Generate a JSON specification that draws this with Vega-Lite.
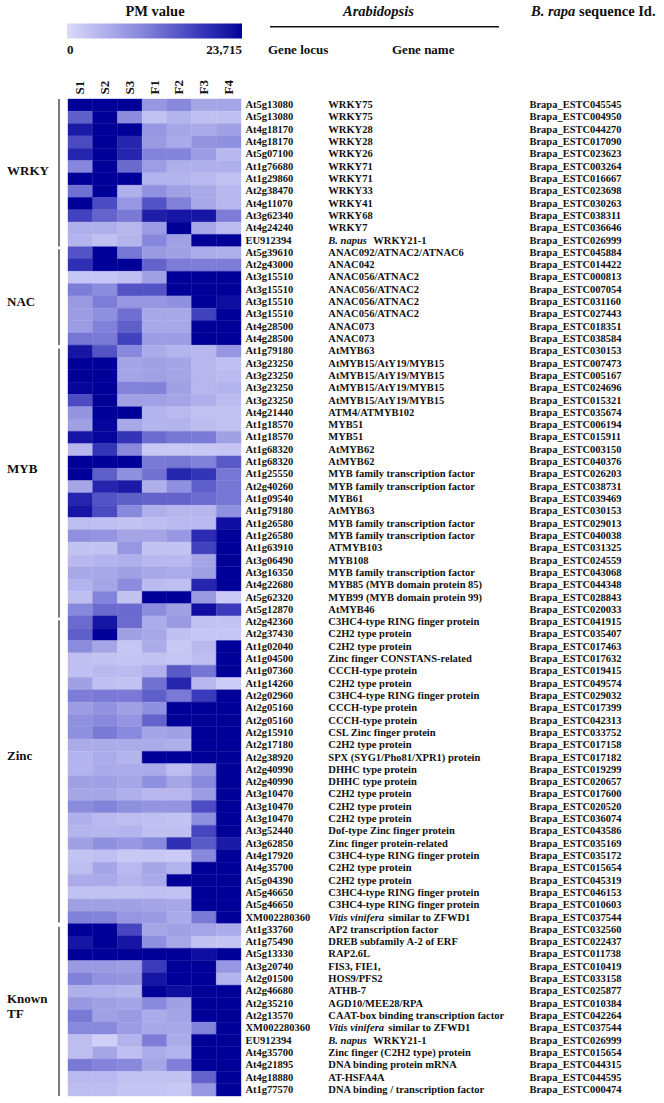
{"$schema":"https://vega.github.io/schema/vega-lite/v6.json","width":664,"height":1103,"padding":0,"autosize":{"type":"none"},"background":"white","config":{"view":{"stroke":null},"text":{"font":"Liberation Serif","fontWeight":"bold","color":"#111111"}},
"datasets":{
"cells":[
{"row":0,"s":"S1","pm":23715},{"row":0,"s":"S2","pm":23715},{"row":0,"s":"S3","pm":23715},{"row":0,"s":"F1","pm":8295},{"row":0,"s":"F2","pm":9954},{"row":0,"s":"F3","pm":6399},{"row":0,"s":"F4","pm":6636},
{"row":1,"s":"S1","pm":14220},{"row":1,"s":"S2","pm":23715},{"row":1,"s":"S3","pm":9480},{"row":1,"s":"F1","pm":2844},{"row":1,"s":"F2","pm":4740},{"row":1,"s":"F3","pm":3318},{"row":1,"s":"F4","pm":3318},
{"row":2,"s":"S1","pm":21330},{"row":2,"s":"S2","pm":23715},{"row":2,"s":"S3","pm":23715},{"row":2,"s":"F1","pm":8295},{"row":2,"s":"F2","pm":6399},{"row":2,"s":"F3","pm":5688},{"row":2,"s":"F4","pm":7110},
{"row":3,"s":"S1","pm":16116},{"row":3,"s":"S2","pm":23715},{"row":3,"s":"S3","pm":20145},{"row":3,"s":"F1","pm":7821},{"row":3,"s":"F2","pm":5925},{"row":3,"s":"F3","pm":8532},{"row":3,"s":"F4","pm":9006},
{"row":4,"s":"S1","pm":20145},{"row":4,"s":"S2","pm":23715},{"row":4,"s":"S3","pm":20145},{"row":4,"s":"F1","pm":10428},{"row":4,"s":"F2","pm":10428},{"row":4,"s":"F3","pm":7584},{"row":4,"s":"F4","pm":4266},
{"row":5,"s":"S1","pm":10191},{"row":5,"s":"S2","pm":23715},{"row":5,"s":"S3","pm":13035},{"row":5,"s":"F1","pm":7584},{"row":5,"s":"F2","pm":5214},{"row":5,"s":"F3","pm":5214},{"row":5,"s":"F4","pm":5214},
{"row":6,"s":"S1","pm":23715},{"row":6,"s":"S2","pm":23715},{"row":6,"s":"S3","pm":23715},{"row":6,"s":"F1","pm":4740},{"row":6,"s":"F2","pm":4740},{"row":6,"s":"F3","pm":4029},{"row":6,"s":"F4","pm":3081},
{"row":7,"s":"S1","pm":12324},{"row":7,"s":"S2","pm":23715},{"row":7,"s":"S3","pm":5214},{"row":7,"s":"F1","pm":9006},{"row":7,"s":"F2","pm":7110},{"row":7,"s":"F3","pm":5925},{"row":7,"s":"F4","pm":4266},
{"row":8,"s":"S1","pm":23715},{"row":8,"s":"S2","pm":16116},{"row":8,"s":"S3","pm":8295},{"row":8,"s":"F1","pm":15405},{"row":8,"s":"F2","pm":10665},{"row":8,"s":"F3","pm":6162},{"row":8,"s":"F4","pm":4266},
{"row":9,"s":"S1","pm":17064},{"row":9,"s":"S2","pm":13746},{"row":9,"s":"S3","pm":11376},{"row":9,"s":"F1","pm":20856},{"row":9,"s":"F2","pm":21804},{"row":9,"s":"F3","pm":21804},{"row":9,"s":"F4","pm":11139},
{"row":10,"s":"S1","pm":5214},{"row":10,"s":"S2","pm":5214},{"row":10,"s":"S3","pm":4266},{"row":10,"s":"F1","pm":7584},{"row":10,"s":"F2","pm":23715},{"row":10,"s":"F3","pm":6162},{"row":10,"s":"F4","pm":3792},
{"row":11,"s":"S1","pm":4740},{"row":11,"s":"S2","pm":3318},{"row":11,"s":"S3","pm":4740},{"row":11,"s":"F1","pm":10191},{"row":11,"s":"F2","pm":7110},{"row":11,"s":"F3","pm":23715},{"row":11,"s":"F4","pm":23715},
{"row":12,"s":"S1","pm":15405},{"row":12,"s":"S2","pm":23715},{"row":12,"s":"S3","pm":11850},{"row":12,"s":"F1","pm":7821},{"row":12,"s":"F2","pm":7110},{"row":12,"s":"F3","pm":5688},{"row":12,"s":"F4","pm":5214},
{"row":13,"s":"S1","pm":18960},{"row":13,"s":"S2","pm":23715},{"row":13,"s":"S3","pm":23715},{"row":13,"s":"F1","pm":13746},{"row":13,"s":"F2","pm":11139},{"row":13,"s":"F3","pm":11139},{"row":13,"s":"F4","pm":11139},
{"row":14,"s":"S1","pm":2370},{"row":14,"s":"S2","pm":2370},{"row":14,"s":"S3","pm":3318},{"row":14,"s":"F1","pm":7110},{"row":14,"s":"F2","pm":23715},{"row":14,"s":"F3","pm":23715},{"row":14,"s":"F4","pm":23715},
{"row":15,"s":"S1","pm":11139},{"row":15,"s":"S2","pm":9480},{"row":15,"s":"S3","pm":15405},{"row":15,"s":"F1","pm":15405},{"row":15,"s":"F2","pm":23715},{"row":15,"s":"F3","pm":23715},{"row":15,"s":"F4","pm":23715},
{"row":16,"s":"S1","pm":7821},{"row":16,"s":"S2","pm":11139},{"row":16,"s":"S3","pm":8295},{"row":16,"s":"F1","pm":8295},{"row":16,"s":"F2","pm":9006},{"row":16,"s":"F3","pm":23715},{"row":16,"s":"F4","pm":22515},
{"row":17,"s":"S1","pm":7584},{"row":17,"s":"S2","pm":9006},{"row":17,"s":"S3","pm":12561},{"row":17,"s":"F1","pm":6162},{"row":17,"s":"F2","pm":6162},{"row":17,"s":"F3","pm":17064},{"row":17,"s":"F4","pm":23715},
{"row":18,"s":"S1","pm":7584},{"row":18,"s":"S2","pm":10665},{"row":18,"s":"S3","pm":14220},{"row":18,"s":"F1","pm":6162},{"row":18,"s":"F2","pm":6162},{"row":18,"s":"F3","pm":23715},{"row":18,"s":"F4","pm":23715},
{"row":19,"s":"S1","pm":11850},{"row":19,"s":"S2","pm":11376},{"row":19,"s":"S3","pm":17064},{"row":19,"s":"F1","pm":7584},{"row":19,"s":"F2","pm":7584},{"row":19,"s":"F3","pm":23715},{"row":19,"s":"F4","pm":23715},
{"row":20,"s":"S1","pm":21804},{"row":20,"s":"S2","pm":15405},{"row":20,"s":"S3","pm":9954},{"row":20,"s":"F1","pm":5688},{"row":20,"s":"F2","pm":4740},{"row":20,"s":"F3","pm":4266},{"row":20,"s":"F4","pm":8295},
{"row":21,"s":"S1","pm":23715},{"row":21,"s":"S2","pm":23715},{"row":21,"s":"S3","pm":6636},{"row":21,"s":"F1","pm":7110},{"row":21,"s":"F2","pm":6636},{"row":21,"s":"F3","pm":4266},{"row":21,"s":"F4","pm":3318},
{"row":22,"s":"S1","pm":23715},{"row":22,"s":"S2","pm":23715},{"row":22,"s":"S3","pm":6636},{"row":22,"s":"F1","pm":7110},{"row":22,"s":"F2","pm":6636},{"row":22,"s":"F3","pm":4266},{"row":22,"s":"F4","pm":3792},
{"row":23,"s":"S1","pm":23226},{"row":23,"s":"S2","pm":23715},{"row":23,"s":"S3","pm":10428},{"row":23,"s":"F1","pm":10665},{"row":23,"s":"F2","pm":7110},{"row":23,"s":"F3","pm":4266},{"row":23,"s":"F4","pm":4740},
{"row":24,"s":"S1","pm":16116},{"row":24,"s":"S2","pm":23715},{"row":24,"s":"S3","pm":7110},{"row":24,"s":"F1","pm":7110},{"row":24,"s":"F2","pm":6636},{"row":24,"s":"F3","pm":5214},{"row":24,"s":"F4","pm":3792},
{"row":25,"s":"S1","pm":8532},{"row":25,"s":"S2","pm":23715},{"row":25,"s":"S3","pm":23715},{"row":25,"s":"F1","pm":4740},{"row":25,"s":"F2","pm":4029},{"row":25,"s":"F3","pm":3081},{"row":25,"s":"F4","pm":3081},
{"row":26,"s":"S1","pm":7110},{"row":26,"s":"S2","pm":23226},{"row":26,"s":"S3","pm":6162},{"row":26,"s":"F1","pm":4740},{"row":26,"s":"F2","pm":4740},{"row":26,"s":"F3","pm":3555},{"row":26,"s":"F4","pm":3081},
{"row":27,"s":"S1","pm":21804},{"row":27,"s":"S2","pm":23226},{"row":27,"s":"S3","pm":18486},{"row":27,"s":"F1","pm":13035},{"row":27,"s":"F2","pm":11850},{"row":27,"s":"F3","pm":11376},{"row":27,"s":"F4","pm":7110},
{"row":28,"s":"S1","pm":4266},{"row":28,"s":"S2","pm":18486},{"row":28,"s":"S3","pm":9954},{"row":28,"s":"F1","pm":2133},{"row":28,"s":"F2","pm":2133},{"row":28,"s":"F3","pm":2133},{"row":28,"s":"F4","pm":2607},
{"row":29,"s":"S1","pm":23715},{"row":29,"s":"S2","pm":23715},{"row":29,"s":"S3","pm":23715},{"row":29,"s":"F1","pm":11376},{"row":29,"s":"F2","pm":11850},{"row":29,"s":"F3","pm":10665},{"row":29,"s":"F4","pm":14931},
{"row":30,"s":"S1","pm":23715},{"row":30,"s":"S2","pm":14220},{"row":30,"s":"S3","pm":9006},{"row":30,"s":"F1","pm":12324},{"row":30,"s":"F2","pm":20145},{"row":30,"s":"F3","pm":18486},{"row":30,"s":"F4","pm":11850},
{"row":31,"s":"S1","pm":6399},{"row":31,"s":"S2","pm":20145},{"row":31,"s":"S3","pm":21330},{"row":31,"s":"F1","pm":5214},{"row":31,"s":"F2","pm":9006},{"row":31,"s":"F3","pm":14220},{"row":31,"s":"F4","pm":11850},
{"row":32,"s":"S1","pm":20145},{"row":32,"s":"S2","pm":15405},{"row":32,"s":"S3","pm":14220},{"row":32,"s":"F1","pm":13746},{"row":32,"s":"F2","pm":13746},{"row":32,"s":"F3","pm":13035},{"row":32,"s":"F4","pm":11850},
{"row":33,"s":"S1","pm":21804},{"row":33,"s":"S2","pm":16116},{"row":33,"s":"S3","pm":9954},{"row":33,"s":"F1","pm":5214},{"row":33,"s":"F2","pm":4266},{"row":33,"s":"F3","pm":4266},{"row":33,"s":"F4","pm":9006},
{"row":34,"s":"S1","pm":3555},{"row":34,"s":"S2","pm":3318},{"row":34,"s":"S3","pm":3081},{"row":34,"s":"F1","pm":3555},{"row":34,"s":"F2","pm":4029},{"row":34,"s":"F3","pm":4029},{"row":34,"s":"F4","pm":22515},
{"row":35,"s":"S1","pm":9006},{"row":35,"s":"S2","pm":8532},{"row":35,"s":"S3","pm":6636},{"row":35,"s":"F1","pm":6636},{"row":35,"s":"F2","pm":8058},{"row":35,"s":"F3","pm":19434},{"row":35,"s":"F4","pm":23715},
{"row":36,"s":"S1","pm":2844},{"row":36,"s":"S2","pm":2844},{"row":36,"s":"S3","pm":8295},{"row":36,"s":"F1","pm":2844},{"row":36,"s":"F2","pm":2844},{"row":36,"s":"F3","pm":17064},{"row":36,"s":"F4","pm":23715},
{"row":37,"s":"S1","pm":4029},{"row":37,"s":"S2","pm":4740},{"row":37,"s":"S3","pm":5214},{"row":37,"s":"F1","pm":4029},{"row":37,"s":"F2","pm":4029},{"row":37,"s":"F3","pm":6636},{"row":37,"s":"F4","pm":23715},
{"row":38,"s":"S1","pm":6162},{"row":38,"s":"S2","pm":6162},{"row":38,"s":"S3","pm":7110},{"row":38,"s":"F1","pm":6162},{"row":38,"s":"F2","pm":5688},{"row":38,"s":"F3","pm":7110},{"row":38,"s":"F4","pm":23715},
{"row":39,"s":"S1","pm":4740},{"row":39,"s":"S2","pm":6399},{"row":39,"s":"S3","pm":9480},{"row":39,"s":"F1","pm":3792},{"row":39,"s":"F2","pm":3318},{"row":39,"s":"F3","pm":20145},{"row":39,"s":"F4","pm":23715},
{"row":40,"s":"S1","pm":3555},{"row":40,"s":"S2","pm":10428},{"row":40,"s":"S3","pm":2844},{"row":40,"s":"F1","pm":23715},{"row":40,"s":"F2","pm":23715},{"row":40,"s":"F3","pm":7821},{"row":40,"s":"F4","pm":1896},
{"row":41,"s":"S1","pm":9954},{"row":41,"s":"S2","pm":13035},{"row":41,"s":"S3","pm":13035},{"row":41,"s":"F1","pm":9480},{"row":41,"s":"F2","pm":7110},{"row":41,"s":"F3","pm":22515},{"row":41,"s":"F4","pm":17775},
{"row":42,"s":"S1","pm":13035},{"row":42,"s":"S2","pm":21804},{"row":42,"s":"S3","pm":13035},{"row":42,"s":"F1","pm":5688},{"row":42,"s":"F2","pm":7821},{"row":42,"s":"F3","pm":3081},{"row":42,"s":"F4","pm":2844},
{"row":43,"s":"S1","pm":14220},{"row":43,"s":"S2","pm":23715},{"row":43,"s":"S3","pm":7110},{"row":43,"s":"F1","pm":6162},{"row":43,"s":"F2","pm":3318},{"row":43,"s":"F3","pm":2370},{"row":43,"s":"F4","pm":2370},
{"row":44,"s":"S1","pm":9480},{"row":44,"s":"S2","pm":6399},{"row":44,"s":"S3","pm":2370},{"row":44,"s":"F1","pm":5688},{"row":44,"s":"F2","pm":2133},{"row":44,"s":"F3","pm":4029},{"row":44,"s":"F4","pm":23715},
{"row":45,"s":"S1","pm":3318},{"row":45,"s":"S2","pm":2844},{"row":45,"s":"S3","pm":2607},{"row":45,"s":"F1","pm":2844},{"row":45,"s":"F2","pm":2370},{"row":45,"s":"F3","pm":3555},{"row":45,"s":"F4","pm":23715},
{"row":46,"s":"S1","pm":3318},{"row":46,"s":"S2","pm":4029},{"row":46,"s":"S3","pm":3792},{"row":46,"s":"F1","pm":5214},{"row":46,"s":"F2","pm":14694},{"row":46,"s":"F3","pm":11850},{"row":46,"s":"F4","pm":23715},
{"row":47,"s":"S1","pm":7110},{"row":47,"s":"S2","pm":3318},{"row":47,"s":"S3","pm":2844},{"row":47,"s":"F1","pm":12324},{"row":47,"s":"F2","pm":20145},{"row":47,"s":"F3","pm":4266},{"row":47,"s":"F4","pm":1659},
{"row":48,"s":"S1","pm":11139},{"row":48,"s":"S2","pm":11376},{"row":48,"s":"S3","pm":11376},{"row":48,"s":"F1","pm":14220},{"row":48,"s":"F2","pm":11376},{"row":48,"s":"F3","pm":17775},{"row":48,"s":"F4","pm":23715},
{"row":49,"s":"S1","pm":7584},{"row":49,"s":"S2","pm":8769},{"row":49,"s":"S3","pm":7110},{"row":49,"s":"F1","pm":9006},{"row":49,"s":"F2","pm":23715},{"row":49,"s":"F3","pm":23715},{"row":49,"s":"F4","pm":23715},
{"row":50,"s":"S1","pm":9006},{"row":50,"s":"S2","pm":9954},{"row":50,"s":"S3","pm":8532},{"row":50,"s":"F1","pm":13746},{"row":50,"s":"F2","pm":23715},{"row":50,"s":"F3","pm":23715},{"row":50,"s":"F4","pm":23715},
{"row":51,"s":"S1","pm":9006},{"row":51,"s":"S2","pm":11376},{"row":51,"s":"S3","pm":9954},{"row":51,"s":"F1","pm":6636},{"row":51,"s":"F2","pm":7110},{"row":51,"s":"F3","pm":23715},{"row":51,"s":"F4","pm":23715},
{"row":52,"s":"S1","pm":5688},{"row":52,"s":"S2","pm":5688},{"row":52,"s":"S3","pm":5688},{"row":52,"s":"F1","pm":5688},{"row":52,"s":"F2","pm":5214},{"row":52,"s":"F3","pm":23715},{"row":52,"s":"F4","pm":23715},
{"row":53,"s":"S1","pm":4740},{"row":53,"s":"S2","pm":5688},{"row":53,"s":"S3","pm":4740},{"row":53,"s":"F1","pm":23715},{"row":53,"s":"F2","pm":23715},{"row":53,"s":"F3","pm":23715},{"row":53,"s":"F4","pm":23715},
{"row":54,"s":"S1","pm":4740},{"row":54,"s":"S2","pm":5688},{"row":54,"s":"S3","pm":5688},{"row":54,"s":"F1","pm":5688},{"row":54,"s":"F2","pm":3555},{"row":54,"s":"F3","pm":7821},{"row":54,"s":"F4","pm":23715},
{"row":55,"s":"S1","pm":7110},{"row":55,"s":"S2","pm":7110},{"row":55,"s":"S3","pm":6399},{"row":55,"s":"F1","pm":9006},{"row":55,"s":"F2","pm":6399},{"row":55,"s":"F3","pm":9954},{"row":55,"s":"F4","pm":23715},
{"row":56,"s":"S1","pm":6399},{"row":56,"s":"S2","pm":6399},{"row":56,"s":"S3","pm":5214},{"row":56,"s":"F1","pm":4266},{"row":56,"s":"F2","pm":4266},{"row":56,"s":"F3","pm":7584},{"row":56,"s":"F4","pm":23715},
{"row":57,"s":"S1","pm":9480},{"row":57,"s":"S2","pm":10428},{"row":57,"s":"S3","pm":9006},{"row":57,"s":"F1","pm":8532},{"row":57,"s":"F2","pm":8532},{"row":57,"s":"F3","pm":16116},{"row":57,"s":"F4","pm":23715},
{"row":58,"s":"S1","pm":5214},{"row":58,"s":"S2","pm":4029},{"row":58,"s":"S3","pm":3555},{"row":58,"s":"F1","pm":3318},{"row":58,"s":"F2","pm":2844},{"row":58,"s":"F3","pm":9006},{"row":58,"s":"F4","pm":23715},
{"row":59,"s":"S1","pm":4503},{"row":59,"s":"S2","pm":4266},{"row":59,"s":"S3","pm":4740},{"row":59,"s":"F1","pm":3318},{"row":59,"s":"F2","pm":3318},{"row":59,"s":"F3","pm":16590},{"row":59,"s":"F4","pm":23715},
{"row":60,"s":"S1","pm":7110},{"row":60,"s":"S2","pm":9006},{"row":60,"s":"S3","pm":8058},{"row":60,"s":"F1","pm":9954},{"row":60,"s":"F2","pm":18960},{"row":60,"s":"F3","pm":14694},{"row":60,"s":"F4","pm":21330},
{"row":61,"s":"S1","pm":2844},{"row":61,"s":"S2","pm":3318},{"row":61,"s":"S3","pm":2133},{"row":61,"s":"F1","pm":2133},{"row":61,"s":"F2","pm":1896},{"row":61,"s":"F3","pm":9954},{"row":61,"s":"F4","pm":23715},
{"row":62,"s":"S1","pm":3555},{"row":62,"s":"S2","pm":6636},{"row":62,"s":"S3","pm":4029},{"row":62,"s":"F1","pm":6399},{"row":62,"s":"F2","pm":4740},{"row":62,"s":"F3","pm":23715},{"row":62,"s":"F4","pm":23715},
{"row":63,"s":"S1","pm":5688},{"row":63,"s":"S2","pm":5925},{"row":63,"s":"S3","pm":4740},{"row":63,"s":"F1","pm":5925},{"row":63,"s":"F2","pm":23715},{"row":63,"s":"F3","pm":23715},{"row":63,"s":"F4","pm":23715},
{"row":64,"s":"S1","pm":3081},{"row":64,"s":"S2","pm":3081},{"row":64,"s":"S3","pm":3081},{"row":64,"s":"F1","pm":3318},{"row":64,"s":"F2","pm":3081},{"row":64,"s":"F3","pm":23715},{"row":64,"s":"F4","pm":23715},
{"row":65,"s":"S1","pm":7110},{"row":65,"s":"S2","pm":7110},{"row":65,"s":"S3","pm":7110},{"row":65,"s":"F1","pm":6636},{"row":65,"s":"F2","pm":6162},{"row":65,"s":"F3","pm":23715},{"row":65,"s":"F4","pm":23715},
{"row":66,"s":"S1","pm":10665},{"row":66,"s":"S2","pm":10428},{"row":66,"s":"S3","pm":8295},{"row":66,"s":"F1","pm":7821},{"row":66,"s":"F2","pm":5925},{"row":66,"s":"F3","pm":11376},{"row":66,"s":"F4","pm":23715},
{"row":67,"s":"S1","pm":23715},{"row":67,"s":"S2","pm":23715},{"row":67,"s":"S3","pm":16590},{"row":67,"s":"F1","pm":6399},{"row":67,"s":"F2","pm":7110},{"row":67,"s":"F3","pm":6636},{"row":67,"s":"F4","pm":5688},
{"row":68,"s":"S1","pm":21804},{"row":68,"s":"S2","pm":23715},{"row":68,"s":"S3","pm":21804},{"row":68,"s":"F1","pm":9006},{"row":68,"s":"F2","pm":6162},{"row":68,"s":"F3","pm":2844},{"row":68,"s":"F4","pm":2607},
{"row":69,"s":"S1","pm":23715},{"row":69,"s":"S2","pm":23715},{"row":69,"s":"S3","pm":23715},{"row":69,"s":"F1","pm":23715},{"row":69,"s":"F2","pm":23715},{"row":69,"s":"F3","pm":22515},{"row":69,"s":"F4","pm":23715},
{"row":70,"s":"S1","pm":7821},{"row":70,"s":"S2","pm":7821},{"row":70,"s":"S3","pm":7584},{"row":70,"s":"F1","pm":17775},{"row":70,"s":"F2","pm":23715},{"row":70,"s":"F3","pm":23715},{"row":70,"s":"F4","pm":8295},
{"row":71,"s":"S1","pm":10665},{"row":71,"s":"S2","pm":8769},{"row":71,"s":"S3","pm":8532},{"row":71,"s":"F1","pm":21804},{"row":71,"s":"F2","pm":23715},{"row":71,"s":"F3","pm":23715},{"row":71,"s":"F4","pm":4740},
{"row":72,"s":"S1","pm":5214},{"row":72,"s":"S2","pm":5214},{"row":72,"s":"S3","pm":4740},{"row":72,"s":"F1","pm":23715},{"row":72,"s":"F2","pm":22515},{"row":72,"s":"F3","pm":23715},{"row":72,"s":"F4","pm":23715},
{"row":73,"s":"S1","pm":8058},{"row":73,"s":"S2","pm":7110},{"row":73,"s":"S3","pm":6636},{"row":73,"s":"F1","pm":9954},{"row":73,"s":"F2","pm":7110},{"row":73,"s":"F3","pm":23715},{"row":73,"s":"F4","pm":23715},
{"row":74,"s":"S1","pm":11376},{"row":74,"s":"S2","pm":7110},{"row":74,"s":"S3","pm":7821},{"row":74,"s":"F1","pm":5688},{"row":74,"s":"F2","pm":6636},{"row":74,"s":"F3","pm":23715},{"row":74,"s":"F4","pm":23715},
{"row":75,"s":"S1","pm":9954},{"row":75,"s":"S2","pm":9954},{"row":75,"s":"S3","pm":7584},{"row":75,"s":"F1","pm":6162},{"row":75,"s":"F2","pm":6162},{"row":75,"s":"F3","pm":10428},{"row":75,"s":"F4","pm":23715},
{"row":76,"s":"S1","pm":3555},{"row":76,"s":"S2","pm":1185},{"row":76,"s":"S3","pm":4740},{"row":76,"s":"F1","pm":11139},{"row":76,"s":"F2","pm":5688},{"row":76,"s":"F3","pm":23715},{"row":76,"s":"F4","pm":23715},
{"row":77,"s":"S1","pm":3555},{"row":77,"s":"S2","pm":6399},{"row":77,"s":"S3","pm":3318},{"row":77,"s":"F1","pm":5688},{"row":77,"s":"F2","pm":4740},{"row":77,"s":"F3","pm":23715},{"row":77,"s":"F4","pm":23715},
{"row":78,"s":"S1","pm":11376},{"row":78,"s":"S2","pm":10428},{"row":78,"s":"S3","pm":9954},{"row":78,"s":"F1","pm":6399},{"row":78,"s":"F2","pm":10902},{"row":78,"s":"F3","pm":23715},{"row":78,"s":"F4","pm":23715},
{"row":79,"s":"S1","pm":4029},{"row":79,"s":"S2","pm":4029},{"row":79,"s":"S3","pm":3081},{"row":79,"s":"F1","pm":3081},{"row":79,"s":"F2","pm":2844},{"row":79,"s":"F3","pm":13746},{"row":79,"s":"F4","pm":23715},
{"row":80,"s":"S1","pm":3555},{"row":80,"s":"S2","pm":3555},{"row":80,"s":"S3","pm":2607},{"row":80,"s":"F1","pm":2607},{"row":80,"s":"F2","pm":2133},{"row":80,"s":"F3","pm":8295},{"row":80,"s":"F4","pm":23715}
],
"genes":[
{"row":0,"locus":"At5g13080","name":"WRKY75","id":"Brapa_ESTC045545"},
{"row":1,"locus":"At5g13080","name":"WRKY75","id":"Brapa_ESTC004950"},
{"row":2,"locus":"At4g18170","name":"WRKY28","id":"Brapa_ESTC044270"},
{"row":3,"locus":"At4g18170","name":"WRKY28","id":"Brapa_ESTC017090"},
{"row":4,"locus":"At5g07100","name":"WRKY26","id":"Brapa_ESTC023623"},
{"row":5,"locus":"At1g76680","name":"WRKY71","id":"Brapa_ESTC003264"},
{"row":6,"locus":"At1g29860","name":"WRKY71","id":"Brapa_ESTC016667"},
{"row":7,"locus":"At2g38470","name":"WRKY33","id":"Brapa_ESTC023698"},
{"row":8,"locus":"At4g11070","name":"WRKY41","id":"Brapa_ESTC030263"},
{"row":9,"locus":"At3g62340","name":"WRKY68","id":"Brapa_ESTC038311"},
{"row":10,"locus":"At4g24240","name":"WRKY7","id":"Brapa_ESTC036646"},
{"row":11,"locus":"EU912394","prefix":"B. napus","name":"WRKY21-1","id":"Brapa_ESTC026999"},
{"row":12,"locus":"At5g39610","name":"ANAC092/ATNAC2/ATNAC6","id":"Brapa_ESTC045884"},
{"row":13,"locus":"At2g43000","name":"ANAC042","id":"Brapa_ESTC014422"},
{"row":14,"locus":"At3g15510","name":"ANAC056/ATNAC2","id":"Brapa_ESTC000813"},
{"row":15,"locus":"At3g15510","name":"ANAC056/ATNAC2","id":"Brapa_ESTC007054"},
{"row":16,"locus":"At3g15510","name":"ANAC056/ATNAC2","id":"Brapa_ESTC031160"},
{"row":17,"locus":"At3g15510","name":"ANAC056/ATNAC2","id":"Brapa_ESTC027443"},
{"row":18,"locus":"At4g28500","name":"ANAC073","id":"Brapa_ESTC018351"},
{"row":19,"locus":"At4g28500","name":"ANAC073","id":"Brapa_ESTC038584"},
{"row":20,"locus":"At1g79180","name":"AtMYB63","id":"Brapa_ESTC030153"},
{"row":21,"locus":"At3g23250","name":"AtMYB15/AtY19/MYB15","id":"Brapa_ESTC007473"},
{"row":22,"locus":"At3g23250","name":"AtMYB15/AtY19/MYB15","id":"Brapa_ESTC005167"},
{"row":23,"locus":"At3g23250","name":"AtMYB15/AtY19/MYB15","id":"Brapa_ESTC024696"},
{"row":24,"locus":"At3g23250","name":"AtMYB15/AtY19/MYB15","id":"Brapa_ESTC015321"},
{"row":25,"locus":"At4g21440","name":"ATM4/ATMYB102","id":"Brapa_ESTC035674"},
{"row":26,"locus":"At1g18570","name":"MYB51","id":"Brapa_ESTC006194"},
{"row":27,"locus":"At1g18570","name":"MYB51","id":"Brapa_ESTC015911"},
{"row":28,"locus":"At1g68320","name":"AtMYB62","id":"Brapa_ESTC003150"},
{"row":29,"locus":"At1g68320","name":"AtMYB62","id":"Brapa_ESTC040376"},
{"row":30,"locus":"At1g25550","name":"MYB family transcription factor","id":"Brapa_ESTC026203"},
{"row":31,"locus":"At2g40260","name":"MYB family transcription factor","id":"Brapa_ESTC038731"},
{"row":32,"locus":"At1g09540","name":"MYB61","id":"Brapa_ESTC039469"},
{"row":33,"locus":"At1g79180","name":"AtMYB63","id":"Brapa_ESTC030153"},
{"row":34,"locus":"At1g26580","name":"MYB family transcription factor","id":"Brapa_ESTC029013"},
{"row":35,"locus":"At1g26580","name":"MYB family transcription factor","id":"Brapa_ESTC040038"},
{"row":36,"locus":"At1g63910","name":"ATMYB103","id":"Brapa_ESTC031325"},
{"row":37,"locus":"At3g06490","name":"MYB108","id":"Brapa_ESTC024559"},
{"row":38,"locus":"At3g16350","name":"MYB family transcription factor","id":"Brapa_ESTC043068"},
{"row":39,"locus":"At4g22680","name":"MYB85 (MYB domain protein 85)","id":"Brapa_ESTC044348"},
{"row":40,"locus":"At5g62320","name":"MYB99 (MYB domain protein 99)","id":"Brapa_ESTC028843"},
{"row":41,"locus":"At5g12870","name":"AtMYB46","id":"Brapa_ESTC020033"},
{"row":42,"locus":"At2g42360","name":"C3HC4-type RING finger protein","id":"Brapa_ESTC041915"},
{"row":43,"locus":"At2g37430","name":"C2H2 type protein","id":"Brapa_ESTC035407"},
{"row":44,"locus":"At1g02040","name":"C2H2 type protein","id":"Brapa_ESTC017463"},
{"row":45,"locus":"At1g04500","name":"Zinc finger CONSTANS-related","id":"Brapa_ESTC017632"},
{"row":46,"locus":"At1g07360","name":"CCCH-type protein","id":"Brapa_ESTC019415"},
{"row":47,"locus":"At1g14260","name":"C2H2 type protein","id":"Brapa_ESTC049574"},
{"row":48,"locus":"At2g02960","name":"C3HC4-type RING finger protein","id":"Brapa_ESTC029032"},
{"row":49,"locus":"At2g05160","name":"CCCH-type protein","id":"Brapa_ESTC017399"},
{"row":50,"locus":"At2g05160","name":"CCCH-type protein","id":"Brapa_ESTC042313"},
{"row":51,"locus":"At2g15910","name":"CSL Zinc finger protein","id":"Brapa_ESTC033752"},
{"row":52,"locus":"At2g17180","name":"C2H2 type protein","id":"Brapa_ESTC017158"},
{"row":53,"locus":"At2g38920","name":"SPX (SYG1/Pho81/XPR1) protein","id":"Brapa_ESTC017182"},
{"row":54,"locus":"At2g40990","name":"DHHC type protein","id":"Brapa_ESTC019299"},
{"row":55,"locus":"At2g40990","name":"DHHC type protein","id":"Brapa_ESTC020657"},
{"row":56,"locus":"At3g10470","name":"C2H2 type protein","id":"Brapa_ESTC017600"},
{"row":57,"locus":"At3g10470","name":"C2H2 type protein","id":"Brapa_ESTC020520"},
{"row":58,"locus":"At3g10470","name":"C2H2 type protein","id":"Brapa_ESTC036074"},
{"row":59,"locus":"At3g52440","name":"Dof-type Zinc finger protein","id":"Brapa_ESTC043586"},
{"row":60,"locus":"At3g62850","name":"Zinc finger protein-related","id":"Brapa_ESTC035169"},
{"row":61,"locus":"At4g17920","name":"C3HC4-type RING finger protein","id":"Brapa_ESTC035172"},
{"row":62,"locus":"At4g35700","name":"C2H2 type protein","id":"Brapa_ESTC015654"},
{"row":63,"locus":"At5g04390","name":"C2H2 type protein","id":"Brapa_ESTC045319"},
{"row":64,"locus":"At5g46650","name":"C3HC4-type RING finger protein","id":"Brapa_ESTC046153"},
{"row":65,"locus":"At5g46650","name":"C3HC4-type RING finger protein","id":"Brapa_ESTC010603"},
{"row":66,"locus":"XM002280360","prefix":"Vitis vinifera","name":"similar to ZFWD1","id":"Brapa_ESTC037544"},
{"row":67,"locus":"At1g33760","name":"AP2 transcription factor","id":"Brapa_ESTC032560"},
{"row":68,"locus":"At1g75490","name":"DREB subfamily A-2 of ERF","id":"Brapa_ESTC022437"},
{"row":69,"locus":"At5g13330","name":"RAP2.6L","id":"Brapa_ESTC011738"},
{"row":70,"locus":"At3g20740","name":"FIS3, FIE1,","id":"Brapa_ESTC010419"},
{"row":71,"locus":"At2g01500","name":"HOS9/PFS2","id":"Brapa_ESTC033158"},
{"row":72,"locus":"At2g46680","name":"ATHB-7","id":"Brapa_ESTC025877"},
{"row":73,"locus":"At2g35210","name":"AGD10/MEE28/RPA","id":"Brapa_ESTC010384"},
{"row":74,"locus":"At2g13570","name":"CAAT-box binding transcription factor","id":"Brapa_ESTC042264"},
{"row":75,"locus":"XM002280360","prefix":"Vitis vinifera","name":"similar to ZFWD1","id":"Brapa_ESTC037544"},
{"row":76,"locus":"EU912394","prefix":"B. napus","name":"WRKY21-1","id":"Brapa_ESTC026999"},
{"row":77,"locus":"At4g35700","name":"Zinc finger (C2H2 type) protein","id":"Brapa_ESTC015654"},
{"row":78,"locus":"At4g21895","name":"DNA binding protein mRNA","id":"Brapa_ESTC044315"},
{"row":79,"locus":"At4g18880","name":"AT-HSFA4A","id":"Brapa_ESTC044595"},
{"row":80,"locus":"At1g77570","name":"DNA binding / transcription factor","id":"Brapa_ESTC000474"}
],
"groups":[{"group":"WRKY","start":0,"end":11.98},{"group":"NAC","start":12.2,"end":19.98},{"group":"MYB","start":20.28,"end":42.13},{"group":"Zinc","start":42.35,"end":66.9},{"group":"Known TF","start":67.25,"end":81}],
"groupLabels":[{"text":"WRKY","at":5.85},{"text":"NAC","at":16.47},{"text":"MYB","at":30.06},{"text":"Zinc","at":53.4},{"text":"Known","at":73.1},{"text":"TF","at":74.35}]
},
"layer":[
{"data":{"name":"cells"},"mark":{"type":"rect","strokeWidth":0.4},"encoding":{
"x":{"field":"s","type":"nominal","scale":{"type":"band","domain":["S1","S2","S3","F1","F2","F3","F4"],"range":[68,241],"paddingInner":0,"paddingOuter":0},"axis":{"orient":"top","offset":-97,"title":null,"domain":false,"ticks":false,"grid":false,"labelAngle":-90,"labelPadding":3,"labelFont":"Liberation Serif","labelFontWeight":"bold","labelFontSize":13,"labelColor":"#111111"}},
"y":{"field":"row","type":"ordinal","scale":{"type":"band","range":[99,1096],"paddingInner":0,"paddingOuter":0},"axis":null},
"stroke":{"field":"pm","type":"quantitative","scale":{"domain":[0,7110,9954,14220,17775,20632,23715],"range":["#dadafb","#a0a0e5","#8888dd","#5f5fc9","#3a3abb","#2020aa","#000099"]},"legend":null},
"color":{"field":"pm","type":"quantitative","scale":{"domain":[0,7110,9954,14220,17775,20632,23715],"range":["#dadafb","#a0a0e5","#8888dd","#5f5fc9","#3a3abb","#2020aa","#000099"]},"legend":{"orient":"none","legendX":67,"legendY":5,"direction":"horizontal","title":"PM value","titleFont":"Liberation Serif","titleFontWeight":"bold","titleFontSize":14.5,"titleColor":"#111111","titleAnchor":"middle","titlePadding":4,"gradientLength":175,"gradientThickness":15,"gradientStrokeWidth":0,"values":[0,23715],"format":",d","labelFont":"Liberation Serif","labelFontWeight":"bold","labelFontSize":13,"labelColor":"#111111","labelOffset":5}}
}},
{"data":{"name":"genes"},"mark":{"type":"text","align":"left","baseline":"middle","fontSize":10.5},"encoding":{
"x":{"datum":"locus","type":"nominal","scale":{"type":"point","padding":0,"domain":["locus","name"],"range":[245.5,328.3]},"axis":null},
"y":{"field":"row","type":"ordinal","scale":{"type":"point","padding":0.5,"range":[99,1096]},"axis":null},
"text":{"field":"locus"}}},
{"data":{"name":"genes"},"transform":[{"filter":"!datum.prefix"}],"mark":{"type":"text","align":"left","baseline":"middle","fontSize":10.5},"encoding":{
"x":{"datum":"name","type":"nominal","scale":{"type":"point","padding":0,"domain":["locus","name"],"range":[245.5,328.3]},"axis":null},
"y":{"field":"row","type":"quantitative","scale":{"domain":[-0.5,80.5],"range":[99,1096]},"axis":null},
"text":{"field":"name"}}},
{"data":{"name":"genes"},"transform":[{"filter":"datum.prefix"}],"mark":{"type":"text","align":"left","baseline":"middle","fontSize":10.5,"fontStyle":"italic"},"encoding":{
"x":{"datum":"name","type":"nominal","scale":{"type":"point","padding":0,"domain":["locus","name"],"range":[245.5,328.3]},"axis":null},
"y":{"field":"row","type":"quantitative","scale":{"domain":[-0.5,80.5],"range":[99,1096]},"axis":null},
"text":{"field":"prefix"}}},
{"data":{"name":"genes"},"transform":[{"filter":"datum.prefix"}],"mark":{"type":"text","align":"left","baseline":"middle","fontSize":10.5},"encoding":{
"x":{"field":"prefix","type":"nominal","scale":{"type":"point","padding":0,"domain":["B. napus","Vitis vinifera"],"range":[373.3,388.3]},"axis":null},
"y":{"field":"row","type":"quantitative","scale":{"domain":[-0.5,80.5],"range":[99,1096]},"axis":null},
"text":{"field":"name"}}},
{"data":{"name":"genes"},"mark":{"type":"text","align":"left","baseline":"middle","fontSize":10.5},"encoding":{
"x":{"datum":"id","type":"nominal","scale":{"type":"point","padding":0,"domain":["name","id"],"range":[328.3,529.4]},"axis":null},
"y":{"field":"row","type":"ordinal","scale":{"type":"point","padding":0.5,"range":[99,1096]},"axis":null},
"text":{"field":"id"}}},
{"data":{"name":"groups"},"mark":{"type":"rule","color":"#333333","strokeWidth":1.3},"encoding":{
"x":{"datum":0,"type":"quantitative","scale":{"domain":[0,1],"range":[59,60]},"axis":null},
"y":{"field":"start","type":"quantitative","scale":{"domain":[0,81],"range":[99,1096]},"axis":null},
"y2":{"field":"end"}}},
{"data":{"name":"groupLabels"},"mark":{"type":"text","align":"left","baseline":"middle","fontSize":13},"encoding":{
"x":{"datum":"group","type":"nominal","scale":{"type":"point","padding":0,"domain":["group","rule"],"range":[7,59]},"axis":null},
"y":{"field":"at","type":"quantitative","scale":{"domain":[0,81],"range":[99,1096]},"axis":null},
"text":{"field":"text"}}},
{"data":{"values":[{"label":"Arabidopsis","line":"top"}]},"mark":{"type":"text","align":"left","baseline":"middle","fontSize":14.5,"fontStyle":"italic"},"encoding":{
"x":{"field":"label","type":"nominal","scale":{"type":"point","padding":0,"domain":["Arabidopsis","end"],"range":[343,416]},"axis":null},
"y":{"field":"line","type":"nominal","scale":{"type":"point","padding":0,"domain":["top","sub"],"range":[12,50]},"axis":null},
"text":{"field":"label"}}},
{"data":{"values":[{"label":"B. rapa","line":"top"}]},"mark":{"type":"text","align":"left","baseline":"middle","fontSize":14.5,"fontStyle":"italic"},"encoding":{
"x":{"field":"label","type":"nominal","scale":{"type":"point","padding":0,"domain":["B. rapa","sequence Id."],"range":[531,579]},"axis":null},
"y":{"field":"line","type":"nominal","scale":{"type":"point","padding":0,"domain":["top","sub"],"range":[12,50]},"axis":null},
"text":{"field":"label"}}},
{"data":{"values":[{"label":"sequence Id.","line":"top"}]},"mark":{"type":"text","align":"left","baseline":"middle","fontSize":14.5},"encoding":{
"x":{"field":"label","type":"nominal","scale":{"type":"point","padding":0,"domain":["B. rapa","sequence Id."],"range":[531,579]},"axis":null},
"y":{"field":"line","type":"nominal","scale":{"type":"point","padding":0,"domain":["top","sub"],"range":[12,50]},"axis":null},
"text":{"field":"label"}}},
{"data":{"values":[{"label":"Gene locus","line":"sub"},{"label":"Gene name","line":"sub"}]},"mark":{"type":"text","align":"left","baseline":"middle","fontSize":13},"encoding":{
"x":{"field":"label","type":"nominal","scale":{"type":"point","padding":0,"domain":["Gene locus","Gene name"],"range":[268,392]},"axis":null},
"y":{"field":"line","type":"nominal","scale":{"type":"point","padding":0,"domain":["top","sub"],"range":[12,50]},"axis":null},
"text":{"field":"label"}}},
{"data":{"values":[{"from":0,"to":1,"level":0}]},"mark":{"type":"rule","color":"#111111","strokeWidth":1.5},"encoding":{
"x":{"field":"from","type":"quantitative","scale":{"domain":[0,1],"range":[270,499]},"axis":null},
"x2":{"field":"to"},
"y":{"field":"level","type":"quantitative","scale":{"domain":[0,1],"range":[26.7,60]},"axis":null}}}
],
"resolve":{"scale":{"x":"independent","y":"independent","color":"independent"},"axis":{"x":"independent","y":"independent"}}}
